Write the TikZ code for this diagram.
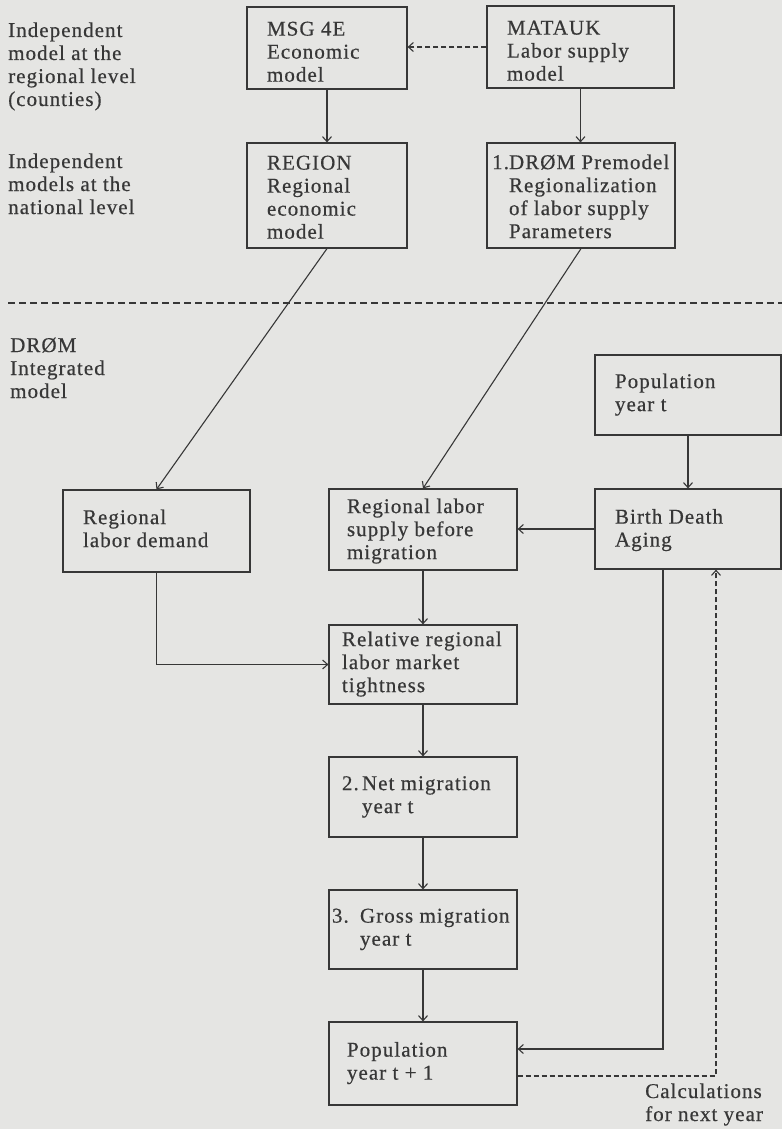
\documentclass[tikz,border=0pt]{standalone}
\usepackage{fontspec}
\setmainfont{Liberation Serif}[LetterSpace=5, FakeBold=0.5]
\usetikzlibrary{arrows.meta}
\definecolor{bg}{RGB}{229,229,227}
\definecolor{ink}{RGB}{55,55,55}
\newcommand\lines[1]{\begin{tabular}[t]{@{}l@{}}#1\end{tabular}}
% #1 box width, #2 left padding, #3 extra top room (lowers the text by half of it), #4 lines
\newcommand\bxtext[4]{\makebox[#1][l]{\hspace*{#2}\begin{tabular}{@{}l@{}}\rule{0pt}{\dimexpr16.1pt+#3\relax}#4\end{tabular}}}
\tikzset{
  txt/.style={text=ink, font=\fontsize{21}{23}\selectfont},
  bx/.style={txt, draw=ink, line width=1.2pt, inner sep=0pt},
  lbl/.style={txt, inner sep=0pt, anchor=base west},
  arr/.style={draw=ink, line width=1.1pt, -{Straight Barb[length=5pt,width=9pt]}},
  darr/.style={arr, dash pattern=on 5pt off 3pt},
  sepline/.style={draw=ink, line width=1.1pt, dash pattern=on 7pt off 4pt}
}
\begin{document}
\begin{tikzpicture}[x=1pt,y=-1pt]
\fill[bg] (0,0) rectangle (782,1129);
\useasboundingbox (0,0) rectangle (782,1129);

% left labels
\node[lbl] (lt1) at (8,37) {\lines{Independent\\model at the\\regional level\\(counties)}};
\node[lbl] (lt2) at (8,168) {\lines{Independent\\models at the\\national level}};
\node[lbl] (lt3) at (10,352) {\lines{DRØM\\Integrated\\model}};
\node[lbl] (calc) at (645,1098) {\lines{Calculations\\for next year}};

% boxes
\node[bx, minimum width=160pt, minimum height=82pt] (msg) at (327,48)
  {\bxtext{160pt}{20pt}{12pt}{MSG 4E\\Economic\\model}};
\node[bx, minimum width=187pt, minimum height=82pt] (matauk) at (580.5,47)
  {\bxtext{187pt}{20pt}{12pt}{MATAUK\\Labor supply\\model}};
\node[bx, minimum width=160pt, minimum height=105pt] (region) at (327,195.5)
  {\bxtext{160pt}{20pt}{8pt}{REGION\\Regional\\economic\\model}};
\node[bx, minimum width=188pt, minimum height=105pt] (premodel) at (581,195.5)
  {\bxtext{188pt}{22pt}{7pt}{\llap{1.}DRØM Premodel\\Regionalization\\of labor supply\\Parameters}};
\node[bx, minimum width=186pt, minimum height=80pt] (popt) at (688,395)
  {\bxtext{186pt}{20pt}{0pt}{Population\\year t}};
\node[bx, minimum width=187pt, minimum height=82pt] (demand) at (156.5,531)
  {\bxtext{187pt}{20pt}{0pt}{Regional\\labor demand}};
\node[bx, minimum width=188pt, minimum height=81pt] (supply) at (423,529.5)
  {\bxtext{188pt}{18pt}{4pt}{Regional labor\\supply before\\migration}};
\node[bx, minimum width=186pt, minimum height=80pt] (birth) at (688,529)
  {\bxtext{186pt}{20pt}{3pt}{Birth Death\\Aging}};
\node[bx, minimum width=188pt, minimum height=79pt] (relative) at (423,664.5)
  {\bxtext{188pt}{13pt}{0pt}{Relative regional\\labor market\\tightness}};
\node[bx, minimum width=188pt, minimum height=80pt] (net) at (423,797)
  {\bxtext{188pt}{13pt}{0pt}{\makebox[20pt][l]{2.}Net migration\\\hspace*{20pt}year t}};
\node[bx, minimum width=188pt, minimum height=79pt] (gross) at (423,929.5)
  {\bxtext{188pt}{3pt}{0pt}{\makebox[28pt][l]{3.}Gross migration\\\hspace*{28pt}year t}};
\node[bx, minimum width=188pt, minimum height=83pt] (popnext) at (423,1063.5)
  {\bxtext{188pt}{18pt}{0pt}{Population\\year t + 1}};

% separator
\coordinate (sepL) at (8,303);
\coordinate (sepR) at (782,303);
\draw[sepline] (sepL) -- (sepR);

% connectors
\draw[darr] (matauk.west) -- (matauk.west -| msg.east);
\draw[arr] (msg) -- (region);
\draw[arr] (matauk.south) -- (matauk.south |- premodel.north);
\draw[arr] (region.south) -- (demand.north);
\draw[arr] (premodel.south) -- (supply.north);
\draw[arr] (popt) -- (birth);
\draw[arr] (birth.west) -- (birth.west -| supply.east);
\draw[arr] (demand.south) |- (relative.west);
\draw[arr] (supply) -- (relative);
\draw[arr] (relative) -- (net);
\draw[arr] (net) -- (gross);
\draw[arr] (gross) -- (popnext);
\coordinate (loopA) at (663,1049);
\coordinate (loopB) at (716,1076);
\draw[arr] (birth.south -| loopA) |- (popnext.east |- loopA);
\draw[darr] (popnext.east |- loopB) -| (birth.south -| loopB);
\end{tikzpicture}
\end{document}
